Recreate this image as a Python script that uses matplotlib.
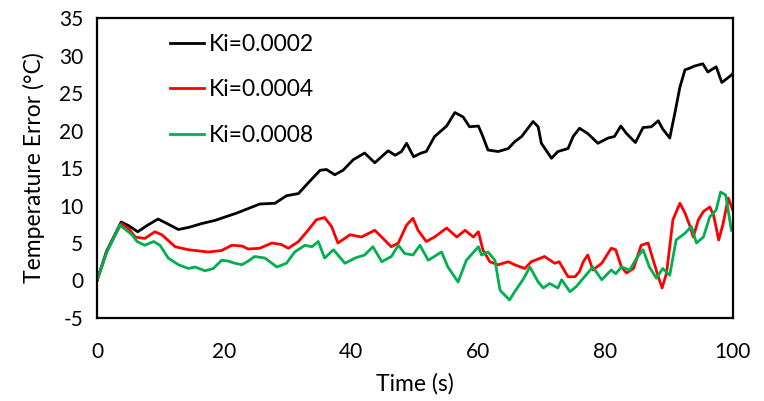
import matplotlib
matplotlib.use("Agg")
import matplotlib.pyplot as plt

plt.rcParams['font.family'] = ['Lato', 'DejaVu Sans']
plt.rcParams['axes.unicode_minus'] = False

# Ki=0.0002
t_a = [0, 1.5, 3.8, 5.0, 6.4, 8.0, 9.6, 11.0, 12.8, 14.5,
       16.5, 18.5, 20.6, 22.0, 23.8, 25.6, 28.0, 29.8, 31.7, 33.2,
       35.1, 36.1, 37.4, 38.7, 40.3, 42.1, 43.7, 45.8, 46.9, 47.9,
       48.7, 49.8, 51.0, 51.8, 53.1, 55.0, 56.3, 57.6, 58.6, 60.0,
       60.7, 61.5, 63.1, 64.7, 65.7, 66.8, 68.6, 69.4, 69.9, 71.5,
       72.5, 74.1, 74.9, 75.9, 77.2, 78.8, 80.4, 81.4, 82.4, 83.3,
       84.7, 85.9, 87.2, 88.3, 89.0, 90.1, 90.9, 91.7, 92.5, 93.2,
       94.0, 95.3, 96.1, 97.4, 98.3, 99.8, 100]
err_a = [0, 3.9, 7.8, 7.3, 6.5, 7.4, 8.2, 7.6, 6.8, 7.1,
         7.6, 8.0, 8.6, 9.0, 9.6, 10.2, 10.3, 11.3, 11.6, 13.0,
         14.7, 14.8, 14.1, 14.7, 16.1, 17.0, 15.7, 17.3, 16.7, 17.2,
         18.3, 16.5, 17.0, 17.2, 19.2, 20.6, 22.4, 21.8, 20.5, 20.6,
         19.2, 17.4, 17.2, 17.6, 18.5, 19.2, 21.2, 20.5, 18.3, 16.3,
         17.2, 17.6, 19.2, 20.3, 19.6, 18.3, 19.0, 19.2, 20.6, 19.6,
         18.4, 20.4, 20.5, 21.3, 20.2, 19.0, 22.3, 25.8, 28.1, 28.3,
         28.6, 28.9, 27.8, 28.5, 26.4, 27.4, 27.6]

# Ki=0.0004
t_b = [0, 1.5, 3.8, 5.0, 6.0, 7.5, 9.1, 10.2, 12.3, 14.4,
       17.5, 19.6, 21.2, 22.8, 23.8, 25.6, 27.5, 29.0, 30.1, 31.7,
       33.2, 34.5, 35.8, 36.9, 37.9, 39.8, 41.6, 43.7, 45.0, 46.3,
       47.4, 48.7, 49.7, 50.5, 51.8, 53.1, 55.0, 56.6, 57.9, 59.2,
       60.0, 60.7, 61.8, 63.1, 64.7, 65.7, 67.3, 68.3, 70.4, 72.0,
       72.7, 74.1, 75.2, 75.9, 76.5, 77.2, 78.0, 79.4, 80.9, 81.6,
       82.5, 83.3, 84.4, 85.6, 86.7, 87.5, 88.3, 88.9, 89.6, 90.6,
       91.7, 92.5, 93.3, 93.8, 94.6, 95.4, 96.4, 97.0, 97.8, 98.5,
       99.3, 100]
err_b = [0, 3.8, 7.6, 6.9, 5.8, 5.6, 6.5, 6.1, 4.5, 4.1,
         3.8, 4.0, 4.7, 4.6, 4.2, 4.3, 5.0, 4.8, 4.3, 5.2,
         6.7, 8.1, 8.4, 7.2, 5.0, 6.1, 5.8, 6.7, 5.6, 4.5,
         5.0, 7.4, 8.3, 6.7, 5.2, 5.8, 7.0, 5.8, 6.7, 5.8,
         6.5, 4.1, 2.5, 2.1, 2.5, 2.1, 1.6, 2.5, 3.2, 2.3,
         2.5, 0.5, 0.5, 1.2, 2.5, 3.4, 1.4, 2.3, 4.3, 4.1,
         1.8, 1.0, 1.6, 4.7, 5.0, 2.7, 0.5, -1.0, 1.0, 8.1,
         10.3, 9.0, 7.2, 5.8, 8.1, 9.2, 9.8, 8.7, 5.4, 7.6,
         11.0, 9.4]

# Ki=0.0008
t_c = [0, 1.5, 3.6, 5.5, 6.3, 7.5, 8.9, 9.9, 11.2, 12.8,
       14.4, 15.4, 17.0, 18.3, 19.6, 20.6, 21.7, 22.8, 23.8, 24.8,
       26.4, 28.3, 29.8, 31.1, 32.7, 33.8, 34.8, 35.8, 37.2, 39.0,
       40.6, 42.1, 43.4, 44.8, 46.3, 47.4, 48.4, 49.7, 50.8, 52.1,
       54.2, 55.2, 56.8, 58.1, 60.0, 60.5, 61.5, 62.6, 63.4, 64.9,
       65.7, 67.0, 68.1, 69.4, 70.2, 71.2, 72.5, 73.1, 74.4, 75.4,
       76.7, 78.0, 79.4, 80.9, 81.6, 82.5, 83.8, 84.9, 85.9, 86.9,
       88.0, 89.0, 90.1, 91.1, 92.5, 93.5, 94.3, 95.4, 96.4, 97.4,
       98.1, 98.9, 99.8]
err_c = [0, 3.7, 7.4, 6.1, 5.2, 4.7, 5.2, 4.7, 3.0, 2.1,
         1.6, 1.8, 1.3, 1.6, 2.7, 2.6, 2.3, 2.1, 2.6, 3.2,
         3.0, 1.8, 2.3, 3.8, 4.7, 4.5, 5.2, 3.0, 4.1, 2.3,
         3.0, 3.4, 4.5, 2.5, 3.2, 4.7, 3.6, 3.4, 4.7, 2.7,
         3.8, 1.8, -0.2, 2.7, 4.5, 3.4, 3.8, 2.7, -1.3, -2.6,
         -1.5, 0.1, 1.8, -0.2, -1.0, -0.4, -1.0, 0.1, -1.5, -0.8,
         0.5, 1.8, 0.1, 1.4, 0.9, 1.8, 1.4, 3.0, 4.1, 1.8,
         0.3, 1.6, 0.7, 5.4, 6.3, 7.2, 5.0, 5.8, 8.5, 9.4,
         11.8, 11.4, 6.7]

labels = ['Ki=0.0002', 'Ki=0.0004', 'Ki=0.0008']
colors = ['black', '#FF0000', '#00B050']

fig = plt.figure(figsize=(7.64, 4.01), dpi=100)
ax = fig.add_axes([0.127, 0.207, 0.832, 0.748])

ax.plot(t_a, err_a, color=colors[0], lw=2.0, label=labels[0])
ax.plot(t_b, err_b, color=colors[1], lw=2.0, label=labels[1])
ax.plot(t_c, err_c, color=colors[2], lw=2.0, label=labels[2])

ax.set_xlim(0, 100)
ax.set_ylim(-5, 35)
ax.set_xticks(range(0, 101, 20))
ax.set_yticks(range(-5, 36, 5))
ax.tick_params(axis='both', length=0, labelsize=15)
ax.tick_params(axis='x', pad=17)
ax.tick_params(axis='y', pad=10)
for s in ax.spines.values():
    s.set_linewidth(1.6)

ax.set_xlabel('Time (s)', fontsize=16.5, labelpad=8)
ax.set_ylabel('Temperature Error (°C)', fontsize=16.5, labelpad=10)

ax.legend(loc='upper left', bbox_to_anchor=(0.082, 1.017), frameon=False,
          fontsize=16.5, handlelength=1.5, handletextpad=0.2, labelspacing=1.07)

fig.savefig('out.png', dpi=100)
